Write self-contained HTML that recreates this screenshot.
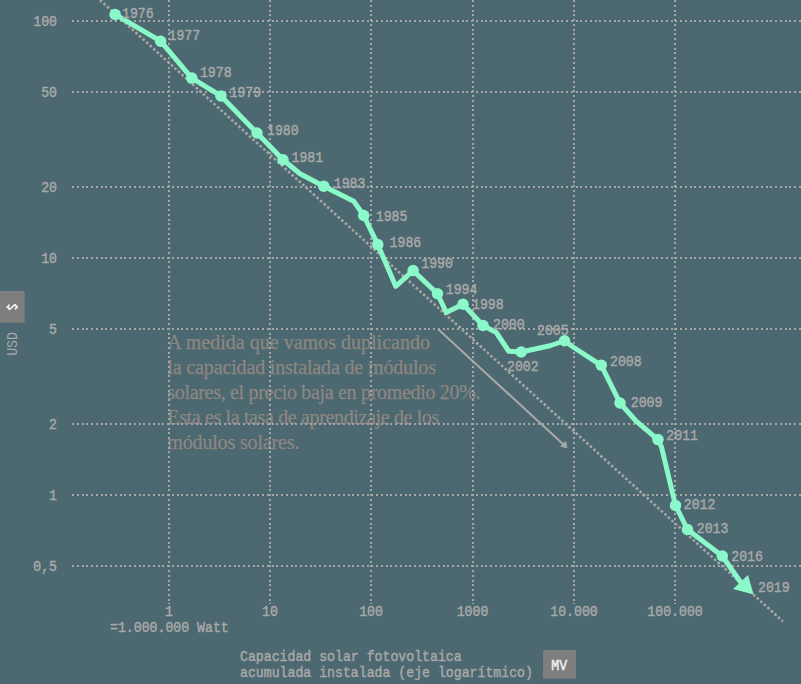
<!DOCTYPE html><html><head><meta charset="utf-8"><style>html,body{margin:0;padding:0;background:#4c6870;overflow:hidden}svg{display:block}</style></head><body>
<svg width="801" height="684" viewBox="0 0 801 684">
<rect width="801" height="684" fill="#4c6870"/>
<text x="167.3" y="349.10" font-family="Liberation Serif" font-size="20" fill="#8d8782" stroke="#8d8782" stroke-width="0.25" textLength="262.7" lengthAdjust="spacing">A medida que vamos duplicando</text>
<text x="167.3" y="374.15" font-family="Liberation Serif" font-size="20" fill="#8d8782" stroke="#8d8782" stroke-width="0.25" textLength="268.7" lengthAdjust="spacing">la capacidad instalada de módulos</text>
<text x="167.3" y="399.20" font-family="Liberation Serif" font-size="20" fill="#8d8782" stroke="#8d8782" stroke-width="0.25" textLength="313.2" lengthAdjust="spacing">solares, el precio baja en promedio 20%.</text>
<text x="167.3" y="424.25" font-family="Liberation Serif" font-size="20" fill="#8d8782" stroke="#8d8782" stroke-width="0.25" textLength="272.0" lengthAdjust="spacing">Esta es la tasa de aprendizaje de los</text>
<text x="167.3" y="449.30" font-family="Liberation Serif" font-size="20" fill="#8d8782" stroke="#8d8782" stroke-width="0.25" textLength="132.1" lengthAdjust="spacing">módulos solares.</text>
<g stroke="#a6a6a6" stroke-width="2" stroke-dasharray="2 2.75" shape-rendering="crispEdges"><line x1="72" y1="21" x2="801" y2="21"/><line x1="72" y1="92" x2="801" y2="92"/><line x1="72" y1="187" x2="801" y2="187"/><line x1="72" y1="258" x2="801" y2="258"/><line x1="72" y1="329" x2="801" y2="329"/><line x1="72" y1="424" x2="801" y2="424"/><line x1="72" y1="494.5" x2="801" y2="494.5"/><line x1="72" y1="566" x2="801" y2="566"/><line x1="169" y1="0" x2="169" y2="604"/><line x1="270" y1="0" x2="270" y2="604"/><line x1="371" y1="0" x2="371" y2="604"/><line x1="472.5" y1="0" x2="472.5" y2="604"/><line x1="574" y1="0" x2="574" y2="604"/><line x1="675" y1="0" x2="675" y2="604"/></g>
<line x1="100" y1="0" x2="783" y2="621.5" stroke="#a6a6a6" stroke-width="2.6" stroke-dasharray="2.6 2.2"/>
<line x1="438.2" y1="329.2" x2="564" y2="445" stroke="#a9a9a9" stroke-width="2"/>
<path d="M566.9 447.8 L560.8 446.3 L565.6 441.6 Z" fill="#a9a9a9" stroke="#a9a9a9" stroke-width="0.8" stroke-linejoin="round"/>
<path d="M115.1,14.4 L160.6,41.2 L191.8,78.1 L220.9,95.9 L257,133 L283,159.75 L300,173.75 L323.75,186.25 L353.75,201.25 L363.75,215.5 L377.8,244.6 L395.7,286.3 L413.1,270.6 L437.5,293.75 L446.25,312.5 L463,304.25 L483,325.5 L496.25,332.5 L508.75,351.25 L521.25,352 L550,345.75 L564.5,340.75 L573.75,347.5 L601.3,365.3 L620,403 L636.25,421.25 L658,439.6 L661.5,447 L675.5,505.4 L687.5,529.5 L722.3,556 L740.5,582" fill="none" stroke="#8af8c8" stroke-width="5" stroke-linejoin="round" stroke-linecap="round"/>
<circle cx="115.1" cy="14.4" r="5.75" fill="#8af8c8"/>
<circle cx="160.6" cy="41.2" r="5.75" fill="#8af8c8"/>
<circle cx="191.8" cy="78.1" r="5.75" fill="#8af8c8"/>
<circle cx="220.9" cy="95.9" r="5.75" fill="#8af8c8"/>
<circle cx="257" cy="133" r="5.75" fill="#8af8c8"/>
<circle cx="283" cy="159.75" r="5.75" fill="#8af8c8"/>
<circle cx="323.75" cy="186.25" r="5.75" fill="#8af8c8"/>
<circle cx="363.75" cy="215.5" r="5.75" fill="#8af8c8"/>
<circle cx="377.8" cy="244.6" r="5.75" fill="#8af8c8"/>
<circle cx="413.1" cy="270.6" r="5.75" fill="#8af8c8"/>
<circle cx="437.5" cy="293.75" r="5.75" fill="#8af8c8"/>
<circle cx="463" cy="304.25" r="5.75" fill="#8af8c8"/>
<circle cx="483" cy="325.5" r="5.75" fill="#8af8c8"/>
<circle cx="521.25" cy="352" r="5.75" fill="#8af8c8"/>
<circle cx="564.5" cy="340.75" r="5.75" fill="#8af8c8"/>
<circle cx="601.3" cy="365.3" r="5.75" fill="#8af8c8"/>
<circle cx="620" cy="403" r="5.75" fill="#8af8c8"/>
<circle cx="658" cy="439.6" r="5.75" fill="#8af8c8"/>
<circle cx="675.5" cy="505.4" r="5.75" fill="#8af8c8"/>
<circle cx="687.5" cy="529.5" r="5.75" fill="#8af8c8"/>
<circle cx="722.3" cy="556" r="5.75" fill="#8af8c8"/>
<path d="M753.6,594.4 L733,589 L748,575 Z" fill="#8af8c8"/>
<text transform="translate(122.00,17.60) scale(1,1.17)" font-family="Liberation Mono" font-size="13.2" fill="#a9a9a9" stroke="#a9a9a9" stroke-width="0.4" text-anchor="start" >1976</text>
<text transform="translate(168.50,40.30) scale(1,1.17)" font-family="Liberation Mono" font-size="13.2" fill="#a9a9a9" stroke="#a9a9a9" stroke-width="0.4" text-anchor="start" >1977</text>
<text transform="translate(199.90,76.70) scale(1,1.17)" font-family="Liberation Mono" font-size="13.2" fill="#a9a9a9" stroke="#a9a9a9" stroke-width="0.4" text-anchor="start" >1978</text>
<text transform="translate(229.50,96.85) scale(1,1.17)" font-family="Liberation Mono" font-size="13.2" fill="#a9a9a9" stroke="#a9a9a9" stroke-width="0.4" text-anchor="start" >1979</text>
<text transform="translate(267.00,135.10) scale(1,1.17)" font-family="Liberation Mono" font-size="13.2" fill="#a9a9a9" stroke="#a9a9a9" stroke-width="0.4" text-anchor="start" >1980</text>
<text transform="translate(291.50,161.85) scale(1,1.17)" font-family="Liberation Mono" font-size="13.2" fill="#a9a9a9" stroke="#a9a9a9" stroke-width="0.4" text-anchor="start" >1981</text>
<text transform="translate(333.75,187.60) scale(1,1.17)" font-family="Liberation Mono" font-size="13.2" fill="#a9a9a9" stroke="#a9a9a9" stroke-width="0.4" text-anchor="start" >1983</text>
<text transform="translate(375.75,220.60) scale(1,1.17)" font-family="Liberation Mono" font-size="13.2" fill="#a9a9a9" stroke="#a9a9a9" stroke-width="0.4" text-anchor="start" >1985</text>
<text transform="translate(389.60,247.40) scale(1,1.17)" font-family="Liberation Mono" font-size="13.2" fill="#a9a9a9" stroke="#a9a9a9" stroke-width="0.4" text-anchor="start" >1986</text>
<text transform="translate(421.25,268.35) scale(1,1.17)" font-family="Liberation Mono" font-size="13.2" fill="#a9a9a9" stroke="#a9a9a9" stroke-width="0.4" text-anchor="start" >1990</text>
<text transform="translate(445.75,293.85) scale(1,1.17)" font-family="Liberation Mono" font-size="13.2" fill="#a9a9a9" stroke="#a9a9a9" stroke-width="0.4" text-anchor="start" >1994</text>
<text transform="translate(472.00,308.85) scale(1,1.17)" font-family="Liberation Mono" font-size="13.2" fill="#a9a9a9" stroke="#a9a9a9" stroke-width="0.4" text-anchor="start" >1998</text>
<text transform="translate(493.00,329.35) scale(1,1.17)" font-family="Liberation Mono" font-size="13.2" fill="#a9a9a9" stroke="#a9a9a9" stroke-width="0.4" text-anchor="start" >2000</text>
<text transform="translate(507.00,370.60) scale(1,1.17)" font-family="Liberation Mono" font-size="13.2" fill="#a9a9a9" stroke="#a9a9a9" stroke-width="0.4" text-anchor="start" >2002</text>
<text transform="translate(537.00,334.60) scale(1,1.17)" font-family="Liberation Mono" font-size="13.2" fill="#a9a9a9" stroke="#a9a9a9" stroke-width="0.4" text-anchor="start" >2005</text>
<text transform="translate(610.00,365.50) scale(1,1.17)" font-family="Liberation Mono" font-size="13.2" fill="#a9a9a9" stroke="#a9a9a9" stroke-width="0.4" text-anchor="start" >2008</text>
<text transform="translate(630.75,407.10) scale(1,1.17)" font-family="Liberation Mono" font-size="13.2" fill="#a9a9a9" stroke="#a9a9a9" stroke-width="0.4" text-anchor="start" >2009</text>
<text transform="translate(666.25,440.10) scale(1,1.17)" font-family="Liberation Mono" font-size="13.2" fill="#a9a9a9" stroke="#a9a9a9" stroke-width="0.4" text-anchor="start" >2011</text>
<text transform="translate(683.75,509.35) scale(1,1.17)" font-family="Liberation Mono" font-size="13.2" fill="#a9a9a9" stroke="#a9a9a9" stroke-width="0.4" text-anchor="start" >2012</text>
<text transform="translate(696.75,532.60) scale(1,1.17)" font-family="Liberation Mono" font-size="13.2" fill="#a9a9a9" stroke="#a9a9a9" stroke-width="0.4" text-anchor="start" >2013</text>
<text transform="translate(731.25,560.70) scale(1,1.17)" font-family="Liberation Mono" font-size="13.2" fill="#a9a9a9" stroke="#a9a9a9" stroke-width="0.4" text-anchor="start" >2016</text>
<text transform="translate(758.00,592.10) scale(1,1.17)" font-family="Liberation Mono" font-size="13.2" fill="#a9a9a9" stroke="#a9a9a9" stroke-width="0.4" text-anchor="start" >2019</text>
<text transform="translate(57.00,26.10) scale(1,1.17)" font-family="Liberation Mono" font-size="13.2" fill="#a9a9a9" stroke="#a9a9a9" stroke-width="0.4" text-anchor="end" >100</text>
<text transform="translate(57.00,97.10) scale(1,1.17)" font-family="Liberation Mono" font-size="13.2" fill="#a9a9a9" stroke="#a9a9a9" stroke-width="0.4" text-anchor="end" >50</text>
<text transform="translate(57.00,192.10) scale(1,1.17)" font-family="Liberation Mono" font-size="13.2" fill="#a9a9a9" stroke="#a9a9a9" stroke-width="0.4" text-anchor="end" >20</text>
<text transform="translate(57.00,263.10) scale(1,1.17)" font-family="Liberation Mono" font-size="13.2" fill="#a9a9a9" stroke="#a9a9a9" stroke-width="0.4" text-anchor="end" >10</text>
<text transform="translate(57.00,334.10) scale(1,1.17)" font-family="Liberation Mono" font-size="13.2" fill="#a9a9a9" stroke="#a9a9a9" stroke-width="0.4" text-anchor="end" >5</text>
<text transform="translate(57.00,429.10) scale(1,1.17)" font-family="Liberation Mono" font-size="13.2" fill="#a9a9a9" stroke="#a9a9a9" stroke-width="0.4" text-anchor="end" >2</text>
<text transform="translate(57.00,499.60) scale(1,1.17)" font-family="Liberation Mono" font-size="13.2" fill="#a9a9a9" stroke="#a9a9a9" stroke-width="0.4" text-anchor="end" >1</text>
<text transform="translate(57.00,571.10) scale(1,1.17)" font-family="Liberation Mono" font-size="13.2" fill="#a9a9a9" stroke="#a9a9a9" stroke-width="0.4" text-anchor="end" >0,5</text>
<text transform="translate(169.00,615.90) scale(1,1.17)" font-family="Liberation Mono" font-size="13.2" fill="#a9a9a9" stroke="#a9a9a9" stroke-width="0.4" text-anchor="middle" >1</text>
<text transform="translate(270.00,615.90) scale(1,1.17)" font-family="Liberation Mono" font-size="13.2" fill="#a9a9a9" stroke="#a9a9a9" stroke-width="0.4" text-anchor="middle" >10</text>
<text transform="translate(371.00,615.90) scale(1,1.17)" font-family="Liberation Mono" font-size="13.2" fill="#a9a9a9" stroke="#a9a9a9" stroke-width="0.4" text-anchor="middle" >100</text>
<text transform="translate(472.50,615.90) scale(1,1.17)" font-family="Liberation Mono" font-size="13.2" fill="#a9a9a9" stroke="#a9a9a9" stroke-width="0.4" text-anchor="middle" >1000</text>
<text transform="translate(574.00,615.90) scale(1,1.17)" font-family="Liberation Mono" font-size="13.2" fill="#a9a9a9" stroke="#a9a9a9" stroke-width="0.4" text-anchor="middle" >10.000</text>
<text transform="translate(675.00,615.90) scale(1,1.17)" font-family="Liberation Mono" font-size="13.2" fill="#a9a9a9" stroke="#a9a9a9" stroke-width="0.4" text-anchor="middle" >100.000</text>
<text transform="translate(110.00,632.30) scale(1,1.17)" font-family="Liberation Mono" font-size="13.2" fill="#a9a9a9" stroke="#a9a9a9" stroke-width="0.4" text-anchor="start" >=1.000.000 Watt</text>
<text transform="translate(240.00,660.70) scale(1,1.17)" font-family="Liberation Mono" font-size="13.2" fill="#a9a9a9" stroke="#a9a9a9" stroke-width="0.4" text-anchor="start" >Capacidad solar fotovoltaica</text>
<text transform="translate(240.00,676.90) scale(1,1.17)" font-family="Liberation Mono" font-size="13.2" fill="#a9a9a9" stroke="#a9a9a9" stroke-width="0.4" text-anchor="start" >acumulada instalada (eje logarítmico)</text>
<rect x="543" y="650" width="33" height="28.8" rx="1.2" fill="#7e7e7e"/>
<text transform="translate(559.20,670.15) scale(1,1.17)" font-family="Liberation Mono" font-size="13.2" fill="#f2f2f2" stroke="#f2f2f2" stroke-width="0.4" text-anchor="middle" >MV</text>
<rect x="-3" y="291" width="27.7" height="31.7" rx="1.2" fill="#7e7e7e"/>
<path d="M6.5,307 L7.5,307 M9.5,304.6 L7.6,307 L9.5,309.4 L15,304.6 L16.9,307 L15,309.4 M17,307 L18,307" fill="none" stroke="#f2f2f2" stroke-width="1.7" stroke-linejoin="round"/>
<text transform="translate(16.5,344) rotate(-90) scale(1,1.17)" font-family="Liberation Mono" font-size="13.2" fill="#a9a9a9" text-anchor="middle">USD</text>
</svg></body></html>
